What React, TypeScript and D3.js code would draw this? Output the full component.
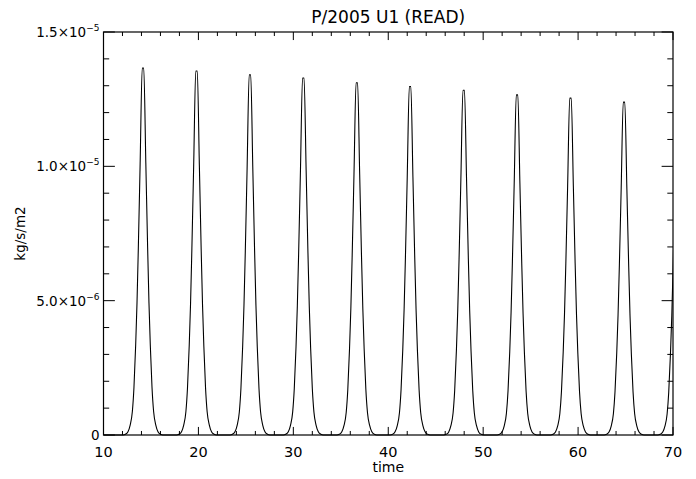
import React from "react";
import * as d3 from "d3";

const title = "P/2005 U1 (READ)";
const xLabel = "time";
const yLabel = "kg/s/m2";

// Peak centres (time) and peak values (kg/s/m2)
const peakTimes = [14.16, 19.8, 25.43, 31.05, 36.69, 42.3, 47.95, 53.57, 59.2, 64.84, 70.5];
const peakValues = [
  1.366e-5, 1.355e-5, 1.341e-5, 1.329e-5, 1.311e-5, 1.297e-5, 1.283e-5, 1.266e-5, 1.254e-5,
  1.239e-5, 1.225e-5,
];
// Peak profile read from the first peak: offset from centre (time) and fraction of peak
const profileOffsets = [
  -2.1, -1.85, -1.58, -1.35, -1.12, -0.95, -0.77, -0.63, -0.49, -0.3, -0.08, 0.08, 0.3, 0.49,
  0.63, 0.77, 0.95, 1.12, 1.35, 1.58, 1.85, 2.1,
];
const profileFractions = [
  0, 0.002, 0.009, 0.027, 0.064, 0.13, 0.245, 0.36, 0.51, 0.74, 1, 1, 0.74, 0.51, 0.36, 0.245,
  0.13, 0.064, 0.027, 0.009, 0.002, 0,
];

const xDomain = [10, 70];
const yDomain = [0, 1.5e-5];
const xMajorTicks = [10, 20, 30, 40, 50, 60, 70];
const xMinorStep = 2;
const yMajorTicks = [0, 5e-6, 1e-5, 1.5e-5];
const yMinorStep = 1e-6;
const yTickMantissa = ["0", "5.0", "1.0", "1.5"];
const yTickExponent = ["", "−6", "−5", "−5"];

const W = 696;
const H = 479;
const M = { left: 103.5, right: 696 - 673, top: 32, bottom: 479 - 435 };

export default function App() {
  const x = d3.scaleLinear().domain(xDomain).range([M.left, W - M.right]);
  const y = d3.scaleLinear().domain(yDomain).range([H - M.bottom, M.top]);

  const pts: [number, number][] = [[xDomain[0], 0]];
  peakTimes.forEach((c, i) => {
    profileOffsets.forEach((o, j) => {
      pts.push([c + o, peakValues[i] * profileFractions[j]]);
    });
  });
  pts.sort((a, b) => a[0] - b[0]);

  const line = d3
    .line<[number, number]>()
    .x((d) => x(d[0]))
    .y((d) => y(d[1]))
    .curve(d3.curveMonotoneX);

  const x0 = x.range()[0];
  const x1 = x.range()[1];
  const y0 = y.range()[0];
  const y1 = y.range()[1];
  const plotH = y0 - y1;
  const plotW = x1 - x0;
  const xMajLen = plotH * 0.02;
  const yMajLen = plotW * 0.02;

  const xMinor = d3.range(xDomain[0], xDomain[1] + 0.001, xMinorStep);
  const yMinor = d3.range(0, yDomain[1] + 1e-9, yMinorStep);

  const font = "'DejaVu Sans', 'Liberation Sans', Arial, sans-serif";

  return (
    <svg
      width={W}
      height={H}
      style={{ position: "absolute", left: 0, top: 0, background: "#fff" }}
      fontFamily={font}
    >
      <rect x={0} y={0} width={W} height={H} fill="#fff" />
      <defs>
        <clipPath id="plotclip">
          <rect x={x0} y={y1 - 2} width={plotW} height={plotH + 4} />
        </clipPath>
      </defs>
      <g clipPath="url(#plotclip)">
        <path d={line(pts) || ""} fill="none" stroke="#000" strokeWidth={1.1} />
      </g>
      {/* frame */}
      <rect x={x0} y={y1} width={plotW} height={plotH} fill="none" stroke="#000" strokeWidth={1.2} />
      {/* x ticks */}
      {xMinor.map((t, i) => {
        const major = xMajorTicks.some((m) => Math.abs(m - t) < 1e-6);
        const len = major ? xMajLen : xMajLen / 2;
        return (
          <g key={"xt" + i} stroke="#000" strokeWidth={1}>
            <line x1={x(t)} x2={x(t)} y1={y0} y2={y0 - len} />
            <line x1={x(t)} x2={x(t)} y1={y1} y2={y1 + len} />
          </g>
        );
      })}
      {/* y ticks */}
      {yMinor.map((v, i) => {
        const major = yMajorTicks.some((m) => Math.abs(m - v) < 1e-9);
        const len = major ? yMajLen : yMajLen / 2;
        return (
          <g key={"yt" + i} stroke="#000" strokeWidth={1}>
            <line x1={x0} x2={x0 + len} y1={y(v)} y2={y(v)} />
            <line x1={x1} x2={x1 - len} y1={y(v)} y2={y(v)} />
          </g>
        );
      })}
      {/* x tick labels */}
      {xMajorTicks.map((t) => (
        <text key={"xl" + t} x={x(t)} y={y0 + 22} textAnchor="middle" fontSize={14.5}>
          {t}
        </text>
      ))}
      {/* y tick labels */}
      {yMajorTicks.map((v, i) => (
        <text key={"yl" + i} x={x0 - 4} y={y(v) + 5} textAnchor="end" fontSize={13.5}>
          {yTickExponent[i] ? (
            <>
              <tspan>{yTickMantissa[i]}×10</tspan>
              <tspan fontSize={9} dy={-6}>
                {yTickExponent[i]}
              </tspan>
            </>
          ) : (
            <tspan>{yTickMantissa[i]}</tspan>
          )}
        </text>
      ))}
      <text x={(x0 + x1) / 2} y={23} textAnchor="middle" fontSize={17}>
        {title}
      </text>
      <text x={(x0 + x1) / 2} y={y0 + 37} textAnchor="middle" fontSize={14}>
        {xLabel}
      </text>
      <text
        transform={`translate(25,${(y0 + y1) / 2}) rotate(-90)`}
        textAnchor="middle"
        fontSize={13.5}
      >
        {yLabel}
      </text>
    </svg>
  );
}
